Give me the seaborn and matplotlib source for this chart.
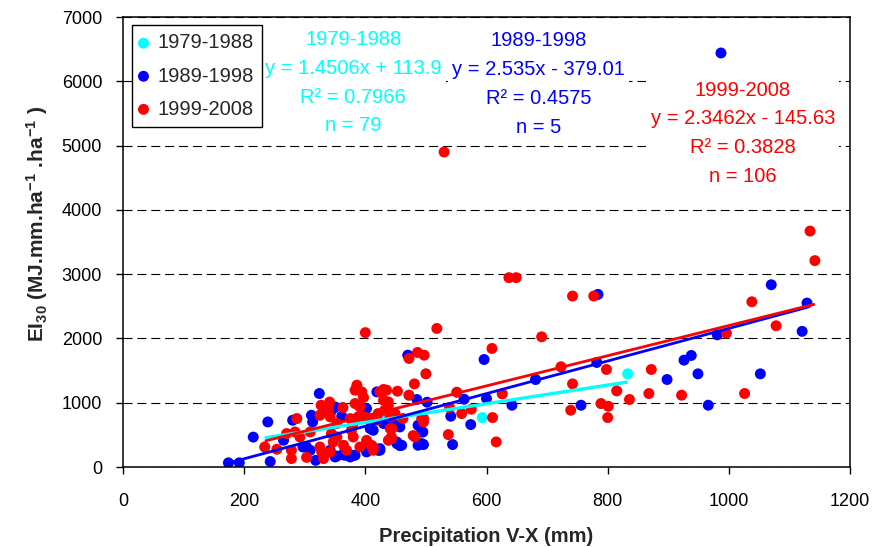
import matplotlib
matplotlib.use("Agg")
import matplotlib.pyplot as plt
import seaborn as sns
import pandas as pd

# ---------------- data ----------------
periods = ["1979-1988", "1989-1998", "1999-2008"]
colors = ["#00FFFF", "#0000FF", "#FF0000"]

cyan_pts = [(234, 311), (287, 753), (325, 805), (363, 925), (394, 1168), (430, 727),
            (472, 1117), (500, 1449), (551, 1163), (626, 1137), (723, 1558), (681, 1361),
            (593, 769), (833, 1449), (815, 1184), (789, 987)]

blue_pts = [(987, 6440), (1070, 2835), (1129, 2550), (1121, 2110), (981, 2056), (784, 2685),
            (782, 1626), (898, 1361), (926, 1662), (938, 1735), (949, 1449), (966, 961),
            (1052, 1449), (756, 961), (596, 1672), (470, 1740), (681, 1361), (600, 1065),
            (563, 1054), (642, 961), (541, 790), (574, 660), (544, 349), (485, 1050),
            (502, 1008), (495, 545), (496, 349), (457, 333), (452, 364), (424, 260),
            (430, 676), (487, 338), (324, 1143), (419, 1168), (347, 909), (361, 790),
            (311, 805), (313, 701), (280, 727), (239, 701), (215, 465), (243, 85),
            (174, 65), (192, 65), (318, 104), (330, 156), (353, 170), (364, 208),
            (380, 182), (402, 234), (424, 286), (460, 338), (297, 311), (309, 260),
            (408, 727), (435, 676), (446, 676), (457, 623), (265, 416), (303, 311),
            (336, 909), (344, 935), (397, 909), (402, 909), (350, 935), (342, 831),
            (413, 571), (408, 597), (487, 649), (493, 545), (493, 364), (452, 389),
            (402, 260), (421, 260), (383, 182), (375, 156), (366, 182), (342, 260),
            (350, 156)]

red_pts = [(530, 4900), (637, 2945), (649, 2945), (742, 2659), (777, 2659), (1134, 3670),
           (1142, 3210), (1038, 2570), (1078, 2197), (996, 2082), (518, 2155), (691, 2025),
           (400, 2090), (609, 1844), (472, 1688), (486, 1782), (497, 1740), (500, 1449),
           (481, 1293), (723, 1558), (798, 1517), (872, 1517), (742, 1293), (626, 1137),
           (551, 1163), (815, 1184), (836, 1050), (868, 1143), (922, 1117), (1026, 1143),
           (789, 987), (801, 945), (800, 769), (739, 883), (575, 899), (559, 831),
           (539, 925), (610, 769), (537, 504), (616, 390), (472, 1117), (453, 1179),
           (496, 754), (479, 489), (443, 467), (444, 598), (424, 1168), (435, 1195),
           (430, 1038), (438, 961), (432, 883), (446, 805), (462, 754), (386, 1273),
           (383, 1195), (394, 1168), (430, 1206), (397, 1081), (391, 935), (388, 779),
           (327, 961), (363, 925), (342, 779), (287, 753), (270, 520), (234, 311),
           (254, 276), (278, 131), (278, 260), (303, 150), (328, 234), (331, 130),
           (342, 234), (284, 545), (325, 805), (309, 545), (325, 311), (339, 909),
           (341, 1010), (375, 753), (380, 676), (353, 676), (399, 779), (408, 753),
           (419, 727), (421, 831), (441, 779), (449, 831), (441, 597), (443, 442),
           (438, 415), (482, 467), (493, 753), (496, 701), (410, 338), (413, 260),
           (364, 338), (369, 260), (353, 467), (344, 520), (347, 389), (380, 467),
           (377, 571), (391, 311), (402, 415), (413, 311), (292, 467), (383, 987),
           (438, 1012)]

slopes = [1.4506, 2.535, 2.3462]
intercepts = [113.9, -379.01, -145.63]
eq_texts = ["y = 1.4506x + 113.9", "y = 2.535x - 379.01", "y = 2.3462x - 145.63"]
r2_texts = ["0.7966", "0.4575", "0.3828"]
n_texts = ["79", "5", "106"]

x_ticks = [0, 200, 400, 600, 800, 1000, 1200]
y_ticks = [0, 1000, 2000, 3000, 4000, 5000, 6000, 7000]

# ---------------- style ----------------
sns.set_style("white")
plt.rcParams["font.family"] = ["Liberation Sans", "DejaVu Sans"]
plt.rcParams["mathtext.default"] = "regular"
plt.rcParams["lines.scale_dashes"] = False

fig = plt.figure(figsize=(8.9, 5.47), dpi=100)
ax = fig.add_axes([123 / 890, 80 / 547, 727 / 890, 450 / 547])

series = [cyan_pts, blue_pts, red_pts]
for pts, lab, col in zip(series, periods, colors):
    df = pd.DataFrame(pts, columns=["x", "y"])
    sns.scatterplot(data=df, x="x", y="y", color=col, s=62, edgecolor="none",
                    linewidth=0, ax=ax, zorder=2, label=lab, legend=False)

# regression lines from the printed equations, over each series' range
lws = [2.4, 2.0, 2.0]
for pts, m, b, col, lw in zip(series, slopes, intercepts, colors, lws):
    xs = [min(p[0] for p in pts), max(p[0] for p in pts)]
    ys = [m * v + b for v in xs]
    ax.plot(xs, ys, color=col, lw=lw, zorder=3, solid_capstyle="butt")

ax.set_xlim(0, 1200)
ax.set_ylim(0, 7000)
ax.set_xticks(x_ticks)
ax.set_yticks(y_ticks)
ax.set_axisbelow(True)
ax.yaxis.grid(True, color="black", linestyle=(0, (6.5, 3.5)), linewidth=0.8)
ax.xaxis.grid(False)

for sp in ax.spines.values():
    sp.set_color("black")
    sp.set_linewidth(1.1)

ax.tick_params(axis="both", direction="out", length=5, width=1, color="black",
               labelsize=13, labelcolor="black")
ax.tick_params(axis="x", pad=14, bottom=True)
ax.tick_params(axis="y", pad=10, left=True)

ax.set_xlabel("Precipitation V-X (mm)", fontsize=14.5, fontweight="bold")
ax.set_ylabel(r"EI$_{30}$ (MJ.mm.ha$^{-1}$ .ha$^{-1}$ )", fontsize=15, fontweight="bold")
ax.xaxis.set_label_coords(0.50, -0.134)
ax.yaxis.set_label_coords(-0.100, 0.54)

# annotations
ann_pos = [(380, 5980), (686, 5960), (1023, 5190)]
for (tx, ty), col, eq, r2, n, lab in zip(ann_pos, colors, eq_texts, r2_texts, n_texts, periods):
    txt = f"{lab}\n{eq}\nR\u00b2 = {r2}\nn = {n}"
    ax.text(tx, ty, txt, color=col, fontsize=14.5, ha="center", va="center",
            multialignment="center", linespacing=1.66, zorder=4,
            bbox=dict(facecolor="white", edgecolor="none", pad=3))

leg = ax.legend(loc="upper left", bbox_to_anchor=(132 / 890, 1 - 25 / 547),
                bbox_transform=fig.transFigure, frameon=True, fancybox=False,
                edgecolor="black", framealpha=1, borderaxespad=0, fontsize=14.5,
                handletextpad=0.55, handlelength=0.3, borderpad=0.42, labelspacing=0.7,
                markerscale=1.0)
leg.get_frame().set_linewidth(1.0)
leg.set_zorder(5)

fig.savefig("out.png", dpi=100)
